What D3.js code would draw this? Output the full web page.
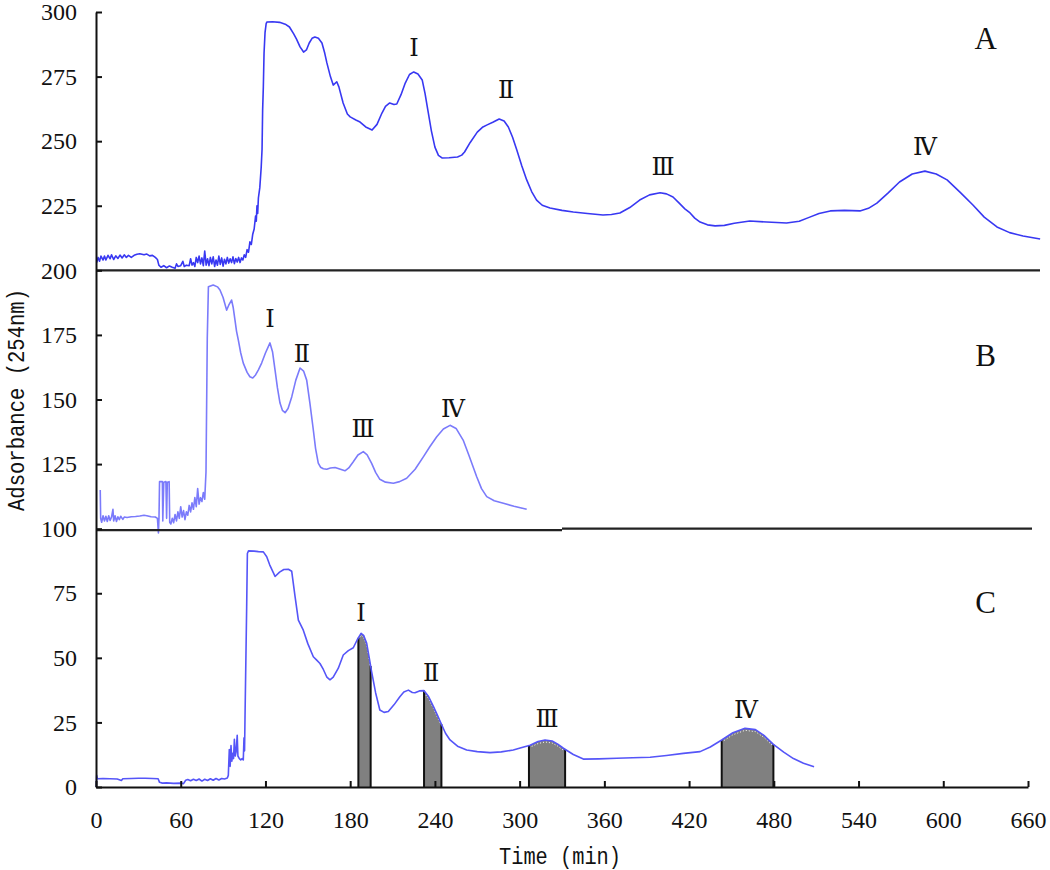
<!DOCTYPE html>
<html>
<head>
<meta charset="utf-8">
<script src="https://cdn.jsdelivr.net/npm/d3@7"></script>
<style>
  body { margin: 0; background: #fff; }
  svg { display: block; }
  .tick text { font-family: "Liberation Serif", serif; font-size: 24px; fill: #111; }
  .axis path, .axis line { stroke: #111; stroke-width: 2px; }
</style>
</head>
<body>
<svg id="chart"></svg>
<script>
// tick labels
const xTicks = [0, 60, 120, 180, 240, 300, 360, 420, 480, 540, 600, 660];
const yTicks = [0, 25, 50, 75, 100, 125, 150, 175, 200, 225, 250, 275, 300];
const panelNames = ['A', 'B', 'C'];
// panel letter anchors (time, absorbance)
const panelAnchors = [[630, 285.7], [630, 163], [630, 67.4]];
const peakNames = ['Ⅰ', 'Ⅱ', 'Ⅲ', 'Ⅳ'];

// trace A (time min, absorbance as plotted)
const traceA = [
  [0.5,203],[1.5,205],[2.5,203.5],[3.5,205.5],[5,204],[6,205.5],[7,204],[8.5,205.8],[10,204.5],[11,206],
  [12.5,204.2],[14,205.6],[15.5,204.6],[17,205.9],[18.5,204.8],[20,206],[21.5,205],[23,205.8],[25,205],
  [27,205.8],[29,206.2],[31,206.4],[34,206],[36,206.3],[38,205.6],[40,205.8],[42,205],[43.5,204.2],
  [44.5,202],[46,201.2],[48,201.8],[50,201],[52,201.7],[54,201.2],[56,200.8],[57,202.5],[58,201.5],
  [60,201.8],[61.5,203.5],[62.5,201.5],[64,202],[66,201.8],[67,204.5],[68,202],[69,203],[70,201.5],
  [71,205],[72,203],[73,205.5],[74,202.5],[75,204.8],[76,201.8],[77,207.5],[78,202],[79,204.5],
  [80,201.8],[81,205],[82,202.5],[83,205.2],[84,201.5],[85,204],[86,202],[87,205.5],[88,202.3],
  [89,204.8],[90,201.6],[91,204.3],[92,202.5],[93,205],[94,202.8],[95,204.5],[96,203],[97,205.2],
  [98,202.6],[99,204.6],[100,203.2],[101,205],[102,203],[103,204.8],[104,204],[105,206],[106,205],
  [107,208],[108,207],[109,211],[110,210],[111,214],[112,216],[113,221],[113.5,219],[114,225],
  [114.5,222],[115,228],[116,232],[117,240],[117.6,247],[118,262],[118.5,271],[119,284],[119.7,292],
  [120.5,295.5],[121,296.1],[125,296.2],[130,296],[134,295.3],[137,294.2],[140,291.5],[142,289.5],
  [144.5,286.5],[147,284.5],[149,285.3],[151,288],[153,289.8],[155,290.3],[157.5,289.8],[160,288],
  [162,284],[163.5,280.3],[166,275],[168,271.7],[170.5,273],[172,271],[175,264.8],[178,260.5],
  [180,259.4],[184,258.2],[187,257.4],[191,255.5],[195.5,254.3],[199,256.5],[202.5,260.9],[205,263.5],
  [208,264.8],[211,264.2],[213,264.4],[216,268],[219,272.5],[222,275.8],[225,276.8],[228,276],
  [231,273.7],[233,268.5],[235,262],[237.5,254],[240,247.7],[242.5,244.5],[245,243.5],[250,243.6],
  [256,243.9],[259,244.6],[261,245.8],[265,249.5],[270,253.5],[274,255.5],[277,256.3],[281,257.3],
  [285.5,258.6],[289,257.8],[292,255.5],[295,251.5],[298,246.6],[301.5,240.5],[305,235],[308.5,230.5],
  [312,227.2],[316,225.2],[321.5,224.1],[330,223.2],[338,222.6],[348,222],[359,221.4],[365,221.6],
  [371,222.2],[378,224.3],[385,227.2],[392,229.2],[399.5,230],[404,229.6],[408.6,228.4],[413,226],
  [417,223.8],[420.7,222.2],[424,220.2],[427.8,218.7],[433,217.6],[438.4,217.2],[445,217.4],
  [452,218.2],[463,219.1],[475,218.7],[489,218.3],[498,219],[505,220.5],[512,222],[520,223],
  [530,223.2],[541,223],[547,224],[553,226],[561,230],[569,234.2],[578,237.3],[587,238.4],[595,237.3],
  [602.7,235],[612,230.2],[621,225.3],[629,220.6],[638,216.8],[647,214.6],[656.5,213.3],[668.6,212.1]
];

// trace B
const traceB = [
  [3,115],[3.3,104],[4,102.5],[5,105],[6,103],[7,104.8],[8,102.8],[9,105],[10,103.2],[11,104.5],
  [12,107.5],[12.5,103],[13.5,105],[14.5,102.8],[15.5,104.6],[16.5,103.5],[17.5,104.8],[19,103.6],
  [20,104.5],[22,104.3],[25,104.6],[28,104.7],[31,104.9],[34,105.2],[36,105],[39,104.6],[42,104.5],
  [43.5,104],[44.2,98.3],[44.6,104],[45,118.2],[47,118.2],[47.3,103],[48,118],[49.5,118.2],[50,104],
  [50.5,118],[51.8,118.2],[52.2,102.5],[53,101.8],[54,104],[55,102.3],[56,105.5],[57,103],[58,106.5],
  [59,104],[60,108.5],[61,104.5],[62,107],[63,103.5],[64,106.5],[65,105.2],[66,109],[67,106.5],
  [68,110],[69,107.5],[70,112],[71,108.5],[72,115.5],[73,109.5],[74,112],[75,110.5],[76,114],
  [77,111.4],[77.9,122],[78.8,173.6],[79.6,193.6],[83,194.3],[86,193.6],[87.8,192.4],[90,189.5],
  [92.5,184.6],[94,186.5],[96,188.5],[97.2,185.5],[98.4,180.8],[99.5,176.5],[100.8,173],[102.5,168],
  [104.3,164.1],[107,160.5],[109,158.8],[111,158.3],[113,159.5],[115,161.5],[117.3,164.1],[120,168],
  [123.2,171.9],[125,168.5],[126.8,161.4],[128.5,154.5],[130.3,148.6],[132,145.8],[133.9,144.9],
  [136,146.5],[138.6,151],[141.5,157.5],[144.5,162.2],[147,161],[149.2,157.5],[151.5,148.5],
  [153.9,138.2],[155.5,131],[157.4,125.4],[159,123.8],[161,123.2],[163.4,123],[166,123.5],
  [169.3,123.7],[172,123.2],[176.3,122.4],[179,123.5],[182.2,125.9],[185.5,128.5],[189.3,129.8],
  [192,128.6],[195.2,125.3],[198,121.8],[201,119.1],[205,118],[210.6,117.6],[215,118.2],[220,119.5],
  [226,123],[231.8,127.8],[236.5,131.8],[241.3,135.6],[246,138.6],[250.7,140],[255,138.8],
  [260,134.3],[264,128.5],[269.6,120.1],[273,115.5],[276.7,112.4],[282,110.8],[288.5,109.8],
  [296,108.7],[305,107.5]
];

// trace C
const traceC = [
  [0.2,0],[0.5,4.5],[1,3.2],[5,3.3],[10,3.2],[15,3.1],[18,2.5],[19,3.2],[25,3.3],[30,3.4],[35,3.4],
  [40,3.3],[44,3.2],[45,1.8],[47,1.5],[50,1.6],[55,1.4],[60,1.5],[62,1.3],[63.5,2.6],[65,2.9],
  [67,2.4],[69,3],[71,2.5],[73,3.1],[75,2.3],[77,3],[79,2.5],[81,3.2],[83,2.6],[85,3.3],[87,2.7],
  [89,3.3],[91,3.1],[93,3.5],[93.7,4.5],[94.4,14.5],[95,8],[95.6,16],[96.2,10],[96.8,13],[97.4,11],
  [98,18.5],[98.6,12],[99.2,13.5],[100,20],[100.5,12],[101.5,11],[102.5,10.5],[103.5,11],[104.3,10.5],
  [104.8,19],[105.2,14],[105.5,26],[106.7,69.8],[107.2,90.4],[108,91.4],[112,91.3],[115,91.1],
  [118.5,91],[120.9,89.1],[123,86],[126.8,81.5],[130,83.2],[133,84.2],[136.2,84.3],[138.6,83.5],
  [141,73.6],[143.3,64.6],[146.8,60.7],[150,55.5],[153.9,50.4],[156.3,49.1],[158.6,47.8],[161,45.5],
  [163.5,42.5],[165.7,41.5],[168,42.5],[171.6,46],[175.1,51.1],[178.7,52.8],[182.2,53.9],[185,57],
  [187.7,59.5],[189.5,58.7],[191.7,55.6],[193.5,50],[195.2,44.6],[198,36.5],[201,29.8],[204,28.9],
  [207,29.2],[211,31.8],[215.3,35],[218,36.8],[221.2,37.5],[224,36.6],[225.9,36.5],[229,37.2],
  [232.3,37.3],[235.5,35],[238.9,31.2],[242,27.5],[244.8,24.1],[247.5,20.8],[250.7,18.2],[256,15.8],
  [262.5,14.3],[270,13.7],[279,13.3],[287,13.6],[295.5,14.3],[301,15.2],[307.4,16.2],[313,17.6],
  [318,18.2],[323,17.8],[327,16.6],[331,15],[338,12.6],[345.1,10.8],[356,10.9],[368.8,11.1],
  [380,11.3],[392.4,11.5],[404,12.2],[415.9,13],[427.8,13.7],[435,15.5],[443.1,18.2],[451,21],
  [459.6,22.7],[467,22.2],[473,20],[479.7,16.5],[487,13.5],[493.9,11],[501,9.2],[508.5,7.8]
];

// collected fractions on trace C (start, end min)
const fractionsC = [[185.8, 194.5], [232.3, 244.6], [306.6, 332.2], [443.1, 479.7]];

// peak label anchors (time, absorbance) per panel
const peaksA = [[225.2, 283], [290.4, 266.7], [401.6, 236.9], [587.1, 244.6]];
const peaksB = [[123.2, 178], [145.9, 164.5], [189.1, 135.5], [252.8, 143.2]];
const peaksC = [[187.7, 64.2], [237.3, 41], [319.4, 23.2], [460.3, 26.6]];

const width = 1050;
const height = 870;
const margin = { top: 12, right: 22, bottom: 83, left: 96 };

const svg = d3.select('#chart')
    .attr('width', width)
    .attr('height', height);

const x = d3.scaleLinear().domain([0, 660]).range([margin.left, width - margin.right]);
const y = d3.scaleLinear().domain([0, 300]).range([height - margin.bottom, margin.top]);

const line = d3.line().x(d => x(d[0])).y(d => y(d[1]));

// value on a trace at time t (linear between read points)
const valueAt = (trace, t) => {
    const i = d3.bisector(d => d[0]).left(trace, t);
    const a = trace[Math.max(i - 1, 0)], b = trace[Math.min(i, trace.length - 1)];
    if (a[0] === b[0]) return a[1];
    return a[1] + (b[1] - a[1]) * (t - a[0]) / (b[0] - a[0]);
};

// shaded fractions under C
fractionsC.forEach(([t0, t1]) => {
    const pts = [[t0, valueAt(traceC, t0)]]
        .concat(traceC.filter(d => d[0] > t0 && d[0] < t1))
        .concat([[t1, valueAt(traceC, t1)]]);
    svg.append('path')
        .datum(pts)
        .attr('d', d3.area().x(d => x(d[0])).y0(y(0)).y1(d => y(d[1])))
        .attr('fill', '#808080');
    svg.append('path')
        .datum(pts)
        .attr('d', line)
        .attr('fill', 'none')
        .attr('stroke', '#fff')
        .attr('stroke-width', 1)
        .attr('stroke-dasharray', '1,2')
        .attr('transform', 'translate(0,2)');
    [pts[0], pts[pts.length - 1]].forEach(p => {
        svg.append('line')
            .attr('x1', x(p[0])).attr('x2', x(p[0]))
            .attr('y1', y(0)).attr('y2', y(p[1]))
            .attr('stroke', '#111')
            .attr('stroke-width', 2);
    });
});

// traces
const traces = [
    { data: traceA, color: '#3838f2' },
    { data: traceB, color: '#7b7bfb' },
    { data: traceC, color: '#5555f8' }
];
traces.forEach(tr => {
    svg.append('path')
        .datum(tr.data)
        .attr('d', line)
        .attr('fill', 'none')
        .attr('stroke', tr.color)
        .attr('stroke-width', 1.6)
        .attr('stroke-linejoin', 'round');
});

// panel separators at 200 and 100 (the 100 line has a small step, as in the scan)
svg.append('line')
    .attr('x1', x(0)).attr('x2', x(660) + 12)
    .attr('y1', y(200)).attr('y2', y(200))
    .attr('stroke', '#222').attr('stroke-width', 2.2);
svg.append('line')
    .attr('x1', x(0)).attr('x2', x(330))
    .attr('y1', y(100) + 1.5).attr('y2', y(100) + 1.5)
    .attr('stroke', '#222').attr('stroke-width', 2.2);
svg.append('line')
    .attr('x1', x(330)).attr('x2', x(660) + 4)
    .attr('y1', y(100)).attr('y2', y(100))
    .attr('stroke', '#222').attr('stroke-width', 2.2);

// axes
svg.append('g')
    .attr('class', 'axis')
    .attr('transform', `translate(0,${y(0)})`)
    .call(d3.axisBottom(x).tickValues(xTicks).tickSize(-6).tickSizeOuter(0).tickPadding(24));

svg.append('g')
    .attr('class', 'axis')
    .attr('transform', `translate(${x(0)},0)`)
    .call(d3.axisLeft(y).tickValues(yTicks).tickSize(-6).tickSizeOuter(0).tickPadding(19));

// panel letters
panelNames.forEach((name, i) => {
    svg.append('text')
        .attr('x', x(panelAnchors[i][0]))
        .attr('y', y(panelAnchors[i][1]))
        .attr('text-anchor', 'middle')
        .style('font-family', '"Liberation Serif", serif')
        .style('font-size', '31px')
        .style('fill', '#111')
        .text(name);
});

// peak numerals
[peaksA, peaksB, peaksC].forEach(peaks => {
    peaks.forEach((p, i) => {
        svg.append('text')
            .attr('x', x(p[0]))
            .attr('y', y(p[1]))
            .attr('text-anchor', 'middle')
            .style('font-family', '"DejaVu Serif", serif')
            .style('font-size', '24px')
            .style('fill', '#111')
            .text(peakNames[i]);
    });
});

// axis titles
svg.append('text')
    .attr('x', 560)
    .attr('y', 864)
    .attr('text-anchor', 'middle')
    .attr('textLength', 122)
    .attr('lengthAdjust', 'spacingAndGlyphs')
    .style('font-family', '"Liberation Mono", monospace')
    .style('font-size', '23px')
    .style('fill', '#111')
    .text('Time (min)');

svg.append('text')
    .attr('transform', 'translate(24,400) rotate(-90)')
    .attr('text-anchor', 'middle')
    .attr('textLength', 222)
    .attr('lengthAdjust', 'spacingAndGlyphs')
    .style('font-family', '"Liberation Mono", monospace')
    .style('font-size', '23px')
    .style('fill', '#111')
    .text('Adsorbance (254nm)');
</script>
</body>
</html>
